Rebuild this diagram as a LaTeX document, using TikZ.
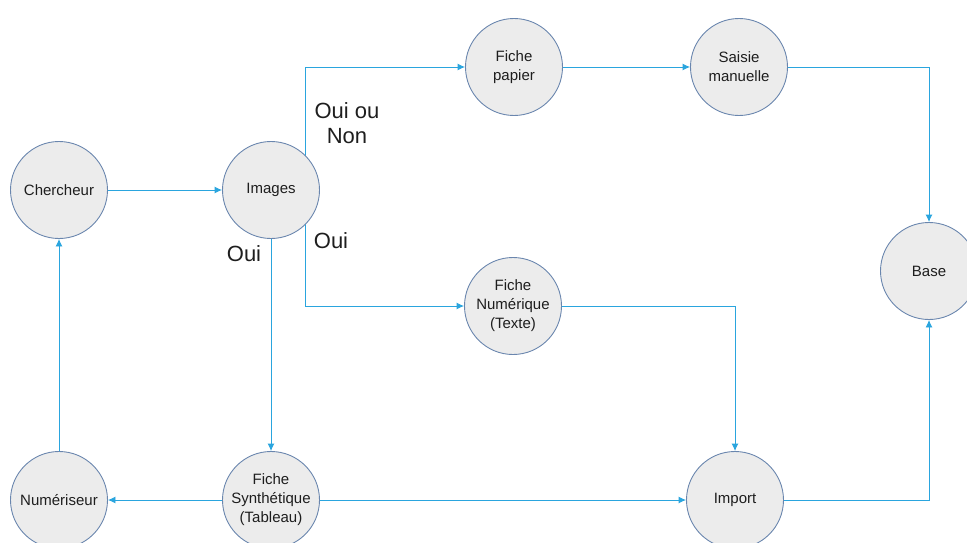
\documentclass[tikz,border=0pt]{standalone}
\usepackage{fontspec}
\setmainfont{Liberation Sans}
\usetikzlibrary{arrows.meta,backgrounds,calc}
\definecolor{edge}{HTML}{2AA5DE}
\definecolor{ring}{HTML}{6A86AE}
\definecolor{disc}{HTML}{ECECEC}
\definecolor{ink}{HTML}{1E1E1E}
\begin{document}
\begin{tikzpicture}[x=1pt,y=-1pt,
  stage/.style={circle,draw=ring,fill=disc,line width=0.9pt,minimum size=97pt,inner sep=0pt,align=center,font=\fontsize{15}{19}\selectfont,text=ink},
  link/.style={draw=edge,line width=0.9pt,-{Latex[length=7.5pt,width=7pt]}},
  tag/.style={font=\fontsize{22}{25}\selectfont,align=center,text=ink,inner sep=0pt}]
\useasboundingbox (0,0) rectangle (967,543);
\node[stage] (cher) at (59,190) {Chercheur};
\node[stage] (img) at (271,190) {Images};
\node[stage] (fp) at (514,67) {Fiche\\papier};
\node[stage] (sm) at (739,67) {Saisie\\manuelle};
\node[stage] (base) at (929,271) {Base};
\node[stage] (fn) at (513,306) {Fiche\\Numérique\\(Texte)};
\node[stage] (num) at (59,500) {Numériseur};
\node[stage] (fs) at (271,500) {Fiche\\Synthétique\\(Tableau)};
\node[stage] (imp) at (735,500) {Import};
\coordinate (split) at ($(img.center)+(34,0)$);
\begin{scope}[on background layer]
\draw[link] (split) |- (fp.west);
\draw[link] (split) |- (fn.west);
\draw[link] (cher) -- (img);
\draw[link] (img) -- (fs);
\draw[link] (fp) -- (sm);
\draw[link] (sm.east) -| (base.north);
\draw[link] (fn.east) -| (imp.north);
\draw[link] (fs) -- (imp);
\draw[link] (fs) -- (num);
\draw[link] (num) -- (cher);
\draw[link] (imp.east) -| (base.south);
\end{scope}
\node[tag] (l1) at (347,123) {Oui ou\\Non};
\node[tag] (l2) at (244,254) {Oui};
\node[tag] (l3) at (331,241) {Oui};
\end{tikzpicture}
\end{document}
